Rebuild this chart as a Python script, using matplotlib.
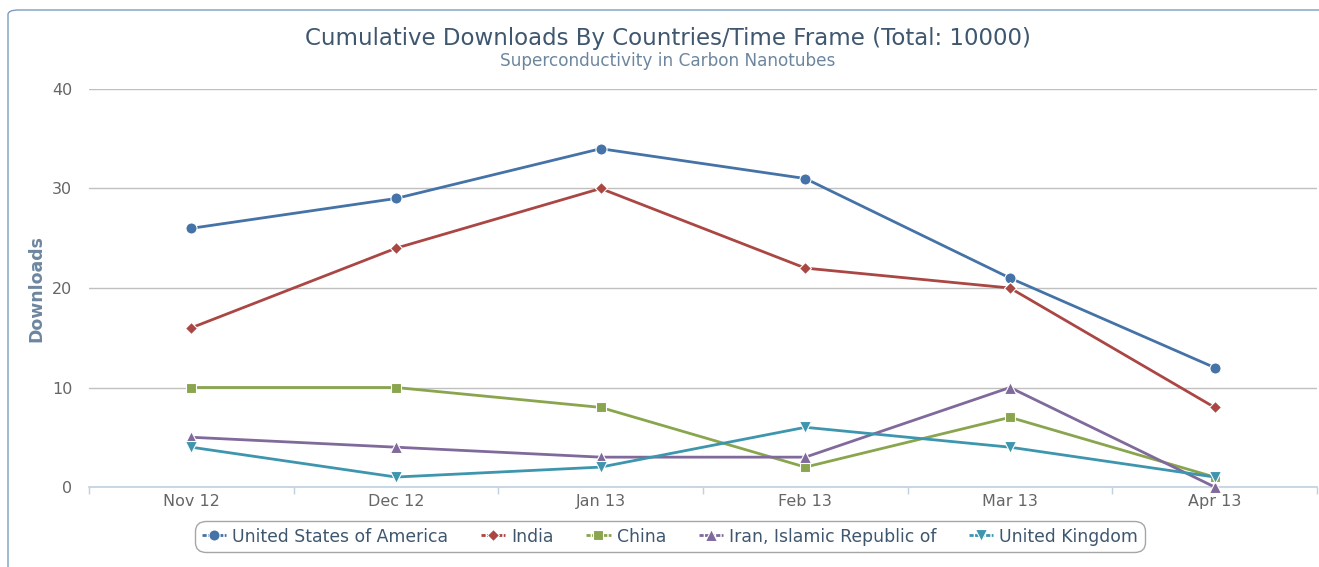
import matplotlib
matplotlib.use("Agg")
import matplotlib.pyplot as plt
from matplotlib.patches import FancyBboxPatch
from matplotlib.lines import Line2D

categories = ["Nov 12", "Dec 12", "Jan 13", "Feb 13", "Mar 13", "Apr 13"]
usa = [26, 29, 34, 31, 21, 12]
india = [16, 24, 30, 22, 20, 8]
china = [10, 10, 8, 2, 7, 1]
iran = [5, 4, 3, 3, 10, 0]
uk = [4, 1, 2, 6, 4, 1]
series_names = ["United States of America", "India", "China",
                "Iran, Islamic Republic of", "United Kingdom"]
yticks = [0, 10, 20, 30, 40]

colors = ["#4572A7", "#AA4643", "#89A54E", "#80699B", "#3D96AE"]
markers = ["o", "D", "s", "^", "v"]
msizes = [8, 6, 6.5, 8, 8]

plt.rcParams['font.family'] = ['DejaVu Sans']
W, H = 1319, 567
fig = plt.figure(figsize=(W / 100, H / 100), dpi=100)

# outer rounded border
border = FancyBboxPatch((8 / W, -20 / H), (W + 40) / W, (H - 10 + 20) / H,
                        boxstyle="round,pad=0,rounding_size=0.008",
                        transform=fig.transFigure, fill=False,
                        edgecolor="#4572A7", linewidth=1, alpha=0.7)
fig.patches.append(border)

ax = fig.add_axes([89 / W, 80 / H, (1317 - 89) / W, 398 / H])
n = len(categories)
xs = list(range(n))
all_series = [usa, india, china, iran, uk]
handles = []
for vals, name, c, m, ms in zip(all_series, series_names, colors, markers, msizes):
    ax.plot(xs, vals, color=c, linewidth=2, marker=m, markersize=ms,
            markeredgecolor="white", markeredgewidth=0.8, clip_on=False,
            label=name, zorder=3)
    handles.append(Line2D([0], [0], color=c, linewidth=2, marker=m,
                          markersize=ms, markeredgecolor="white",
                          markeredgewidth=0.8, linestyle=(0, (1.5, 0.5))))

ax.set_xlim(-0.5, n - 0.5)
ax.set_ylim(0, 40)
ax.set_yticks(yticks)
ax.set_yticklabels([str(v) for v in yticks])
ax.set_xticks(xs)
ax.set_xticklabels(categories)
ax.set_xticks([i - 0.5 for i in range(n + 1)], minor=True)
ax.tick_params(axis="x", which="major", length=0, pad=5, labelsize=11.5,
               labelcolor="#666666")
ax.tick_params(axis="x", which="minor", length=5, color="#C0D0E0", width=1)
ax.tick_params(axis="y", length=0, pad=12, labelsize=11.5, labelcolor="#666666")
ax.grid(axis="y", color="#C0C0C0", linewidth=1)
ax.set_axisbelow(True)
for s in ["top", "right", "left"]:
    ax.spines[s].set_visible(False)
ax.spines["bottom"].set_color("#C0D0E0")
ax.spines["bottom"].set_linewidth(1.2)
ax.spines["bottom"].set_zorder(2)

ax.set_ylabel("Downloads", color="#6D869F", fontsize=12.5, fontweight="bold",
              labelpad=5)

fig.text(668 / W, 1 - 39 / H, "Cumulative Downloads By Countries/Time Frame (Total: 10000)",
         ha="center", va="center", fontsize=16.5, color="#3E576F")
fig.text(668 / W, 1 - 61 / H, "Superconductivity in Carbon Nanotubes",
         ha="center", va="center", fontsize=12.2, color="#6D869F")

leg = fig.legend(handles=handles, labels=series_names, loc="center",
                 bbox_to_anchor=(670 / W, 1 - 536.5 / H), ncol=5, frameon=True,
                 fontsize=12.4, labelcolor="#3E576F", handlelength=1.4,
                 handletextpad=0.35, columnspacing=1.9, borderpad=0.4,
                 fancybox=True, edgecolor="#909090")
leg.get_frame().set_linewidth(1)
leg.get_frame().set_boxstyle("round,pad=0,rounding_size=0.6")

fig.savefig("out.png", dpi=100)
